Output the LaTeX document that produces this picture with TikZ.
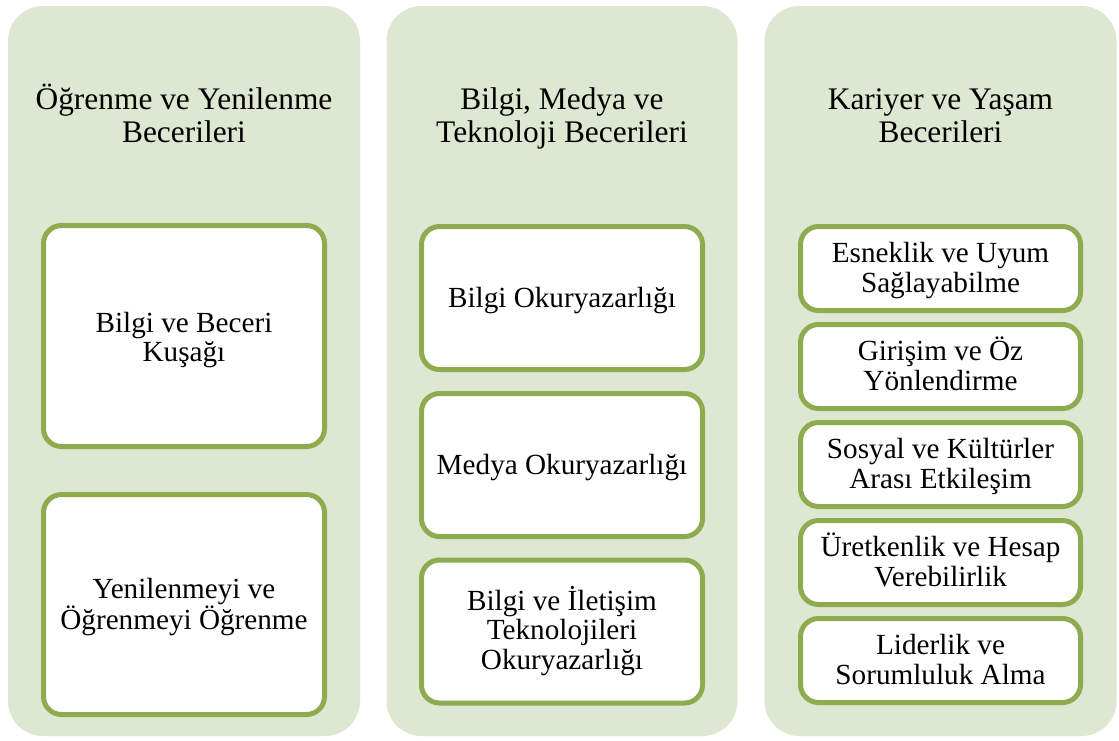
\documentclass[tikz,border=0pt]{standalone}
\usepackage{fontspec}
\setmainfont{Liberation Serif}
\definecolor{colfill}{RGB}{222,231,209}
\definecolor{boxline}{RGB}{143,171,80}
\begin{document}
\begin{tikzpicture}[x=1pt,y=-1pt,
  colbox/.style={draw=none,fill=colfill,rounded corners=35pt,minimum width=352pt,minimum height=730pt,inner sep=0pt},
  titletext/.style={align=flush center,text width=345pt,font=\fontsize{31.4}{33.5}\selectfont,inner sep=0pt,anchor=base},
  itembox/.style={draw=boxline,line width=5pt,fill=white,rounded corners=18pt,align=flush center,text width=275pt,
     font=\fontsize{29.2}{29.5}\selectfont,inner sep=0pt,minimum width=281pt},
  oneline/.style={text height=20pt,text depth=2pt},
  twoline/.style={text height=9pt,text depth=21pt},
  threeline/.style={text height=10pt,text depth=53pt}]
\useasboundingbox (0,0) rectangle (1119,740);
\fill[white] (0,0) rectangle (1119,740);
% columns
\node[colbox] (c1) at (184,371) {};
\node[colbox,minimum width=351pt] (c2) at (562,371) {};
\node[colbox] (c3) at (940.5,371) {};
% titles
\node[titletext] (t1) at (184,109) {Öğrenme ve Yenilenme\\Becerileri};
\node[titletext] (t2) at (562,109) {Bilgi, Medya ve\\Teknoloji Becerileri};
\node[titletext] (t3) at (940.5,109) {Kariyer ve Yaşam\\Becerileri};
% column 1
\node[itembox,text height=10pt,text depth=18pt,minimum height=221pt] (a1) at (184,336) {Bilgi ve Beceri\\Kuşağı};
\node[itembox,twoline,minimum height=220pt] (a2) at (184,604.5) {Yenilenmeyi ve\\Öğrenmeyi Öğrenme};
% column 2
\node[itembox,oneline,minimum height=143pt] (b1) at (562,298) {Bilgi Okuryazarlığı};
\node[itembox,oneline,minimum height=143pt] (b2) at (562,465) {Medya Okuryazarlığı};
\node[itembox,threeline,minimum height=143pt] (b3) at (562,631.5) {Bilgi ve İletişim\\Teknolojileri\\Okuryazarlığı};
% column 3
\node[itembox,twoline,minimum width=280pt,minimum height=84pt] (d1) at (940.5,268.5) {Esneklik ve Uyum\\Sağlayabilme};
\node[itembox,twoline,minimum width=280pt,minimum height=84pt] (d2) at (940.5,366.5) {Girişim ve Öz\\Yönlendirme};
\node[itembox,twoline,minimum width=280pt,minimum height=84pt] (d3) at (940.5,464.5) {Sosyal ve Kültürler\\Arası Etkileşim};
\node[itembox,twoline,minimum width=280pt,minimum height=84pt] (d4) at (940.5,562.5) {Üretkenlik ve Hesap\\Verebilirlik};
\node[itembox,twoline,minimum width=280pt,minimum height=84pt] (d5) at (940.5,660.5) {Liderlik ve\\Sorumluluk Alma};
\end{tikzpicture}
\end{document}
